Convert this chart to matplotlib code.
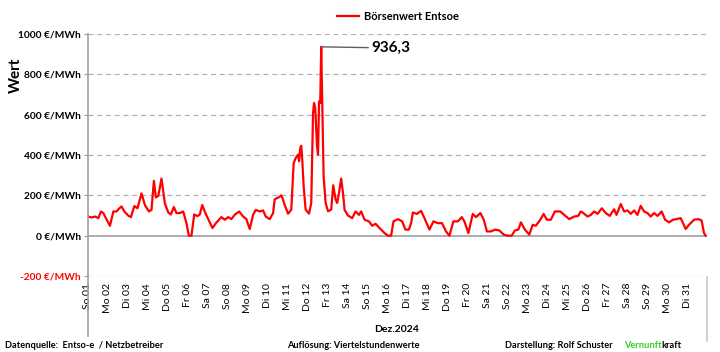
import matplotlib
matplotlib.use("Agg")
import matplotlib.pyplot as plt
from matplotlib.lines import Line2D
import numpy as np

plt.rcParams['font.family'] = ['Lato', 'DejaVu Sans']

# time in days since 01.12.2024 00:00, price in EUR/MWh
t_days = [0.0, 0.18, 0.35, 0.52, 0.65, 0.77, 0.88, 1.1, 1.27, 1.43, 1.52, 1.68, 1.82,
          2.02, 2.15, 2.32, 2.48, 2.68, 2.85, 3.05, 3.18, 3.3, 3.4, 3.52, 3.68, 3.85,
          4.02, 4.15, 4.3, 4.43, 4.6, 4.77, 4.93, 5.05, 5.18, 5.32, 5.48, 5.6, 5.72, 5.88,
          6.1, 6.23, 6.43, 6.68, 6.85, 7.02, 7.18, 7.35, 7.57, 7.77, 7.93,
          8.1, 8.27, 8.4, 8.6, 8.77, 8.9, 9.1, 9.27, 9.35, 9.6, 9.68, 9.77, 9.85,
          10.02, 10.18, 10.3, 10.4, 10.52, 10.57, 10.63, 10.68, 10.73, 10.8, 10.9,
          11.07, 11.18, 11.27, 11.32, 11.38, 11.47, 11.52, 11.57, 11.63, 11.68, 11.73,
          11.8, 11.9, 12.02, 12.18, 12.28, 12.4, 12.48, 12.57, 12.68, 12.77, 12.85,
          13.02, 13.23, 13.4, 13.57, 13.68, 13.85, 14.07, 14.23, 14.4, 14.6, 14.85,
          15.02, 15.18, 15.3, 15.52, 15.73, 15.9, 16.07, 16.18, 16.27, 16.47, 16.68,
          16.85, 17.1, 17.3, 17.52, 17.73, 17.93, 18.1, 18.3, 18.52, 18.6, 18.72, 18.85,
          19.05, 19.27, 19.43, 19.65, 19.82, 19.98, 20.18, 20.38, 20.6, 20.82, 21.02,
          21.22, 21.38, 21.55, 21.68, 21.88, 22.1, 22.27, 22.43, 22.65, 22.82, 22.98,
          23.18, 23.38, 23.65, 23.85, 24.1, 24.35, 24.55, 24.68, 24.77, 25.02, 25.18,
          25.35, 25.52, 25.73, 25.93, 26.13, 26.35, 26.47, 26.68, 26.85, 27.02, 27.18,
          27.35, 27.52, 27.68, 27.85, 28.02, 28.18, 28.35, 28.52, 28.73, 28.9, 29.1,
          29.3, 29.47, 29.68, 29.8, 29.93, 30.1, 30.35, 30.57, 30.73, 30.85, 30.93]
price = [95, 90, 95, 87, 120, 112, 90, 49, 120, 120, 131, 145, 120,
         99, 92, 147, 136, 210, 152, 120, 128, 272, 190, 197, 283, 160,
         115, 105, 142, 112, 112, 120, 62, 0, 0, 105, 97, 105, 152, 112,
         65, 38, 65, 92, 79, 92, 82, 104, 120, 95, 82,
         33, 104, 128, 120, 125, 95, 82, 112, 180, 193, 200, 178, 152,
         109, 129, 360, 385, 402, 369, 435, 446, 377, 245, 129,
         109, 162, 608, 658, 633, 443, 402, 666, 658, 936.3, 674,
         294, 162, 121, 129, 250, 180, 162, 212, 283, 212, 128,
         100, 87, 120, 103, 120, 79, 71, 49, 59, 38, 13,
         0, 0, 71, 82, 71, 30, 30, 62, 115, 108, 123,
         87, 30, 71, 62, 62, 21, 0, 71, 71, 79, 92, 71,
         13, 108, 92, 112, 79, 21, 21, 30, 26, 5, 0,
         0, 26, 30, 66, 30, 5, 54, 49, 79, 108, 79,
         79, 120, 120, 103, 82, 95, 98, 120, 115, 95, 103,
         120, 108, 136, 112, 98, 131, 103, 157, 120, 125, 108,
         125, 103, 148, 120, 112, 95, 112, 98, 120, 79, 66,
         79, 82, 87, 62, 33, 54, 79, 82, 75, 13, 0]

day_labels = ["So 01", "Mo 02", "Di 03", "Mi 04", "Do 05", "Fr 06", "Sa 07", "So 08",
              "Mo 09", "Di 10", "Mi 11", "Do 12", "Fr 13", "Sa 14", "So 15", "Mo 16",
              "Di 17", "Mi 18", "Do 19", "Fr 20", "Sa 21", "So 22", "Mo 23", "Di 24",
              "Mi 25", "Do 26", "Fr 27", "Sa 28", "So 29", "Mo 30", "Di 31"]
y_ticks = [-200, 0, 200, 400, 600, 800, 1000]

fig = plt.figure(figsize=(7.2, 3.52), dpi=100)
ax = fig.add_axes([88 / 720, 1 - 276 / 352, 619 / 720, 242 / 352])

line, = ax.plot(t_days, price, color='red', lw=1.6, label='Börsenwert Entsoe')

ax.set_xlim(0, 31)
ax.set_ylim(-200, 1000)
ax.set_yticks(y_ticks)
ax.set_yticklabels([f"{v} €/MWh" for v in y_ticks], fontsize=7.3, fontweight='bold')
ax.get_yticklabels()[0].set_color('red')
ax.set_xticks(np.arange(31))
ax.set_xticklabels(day_labels, rotation=90, fontsize=7.5, va='top')
ax.tick_params(axis='x', length=0, pad=5)
ax.tick_params(axis='y', length=3, color='#999999', pad=2)

for v in y_ticks:
    if v == 0:
        ax.axhline(0, color='#a0a0a0', lw=1.2, zorder=1)
    else:
        ax.axhline(v, color='#b0b0b0', lw=0.9, ls=(0, (4, 3)), zorder=1)

for s in ['top', 'right', 'bottom']:
    ax.spines[s].set_visible(False)
ax.spines['left'].set_color('#a0a0a0')
ax.spines['left'].set_linewidth(1.2)

ax.set_ylabel("Wert", fontsize=11, fontweight='bold')
ax.yaxis.set_label_coords(-0.105, 0.83)

# extended frame around the date labels
fig.add_artist(Line2D([88 / 720, 88 / 720], [1 - 276 / 352, 1 - 336 / 352],
                      color='#a0a0a0', lw=1.2))
fig.add_artist(Line2D([707 / 720, 707 / 720], [1 - 277 / 352, 1 - 341 / 352],
                      color='#c8c8c8', lw=1.2))

# peak annotation
i_max = int(np.argmax(price))
ax.annotate(f"{price[i_max]:.1f}".replace('.', ','),
            xy=(t_days[i_max], price[i_max]), xytext=(371, 304),
            textcoords='figure pixels', fontsize=11, fontweight='bold',
            va='center', ha='left',
            arrowprops=dict(arrowstyle='-', color='#606060', lw=1.0,
                            shrinkA=0, shrinkB=0))

fig.legend(handles=[line], loc='center', bbox_to_anchor=(398 / 720, 1 - 16 / 352),
           frameon=False, prop={'weight': 'bold', 'size': 8},
           handlelength=2, handletextpad=0.4)

fig.text(397 / 720, 1 - 329 / 352, "Dez.2024", fontsize=7.5, fontweight='bold',
         ha='center', va='center')
fig.text(5 / 720, 1 - 346 / 352, "Datenquelle:  Entso-e  / Netzbetreiber",
         fontsize=6.7, fontweight='bold', ha='left', va='center')
fig.text(287 / 720, 1 - 346 / 352, "Auflösung: Viertelstundenwerte",
         fontsize=6.7, fontweight='bold', ha='left', va='center')
t_dar = fig.text(505 / 720, 1 - 346 / 352, "Darstellung: Rolf Schuster",
                 fontsize=6.7, fontweight='bold', ha='left', va='center')
t_ver = ax.annotate("Vernunft", xy=(1, 0.5), xycoords=t_dar, xytext=(8, 0),
                    textcoords='offset points', color='#33cc33', fontsize=6.7,
                    fontweight='bold', ha='left', va='center', annotation_clip=False)
ax.annotate("kraft", xy=(1, 0.5), xycoords=t_ver, xytext=(0, 0),
            textcoords='offset points', color='black', fontsize=6.7,
            fontweight='bold', ha='left', va='center', annotation_clip=False)

fig.savefig("out.png", dpi=100)
